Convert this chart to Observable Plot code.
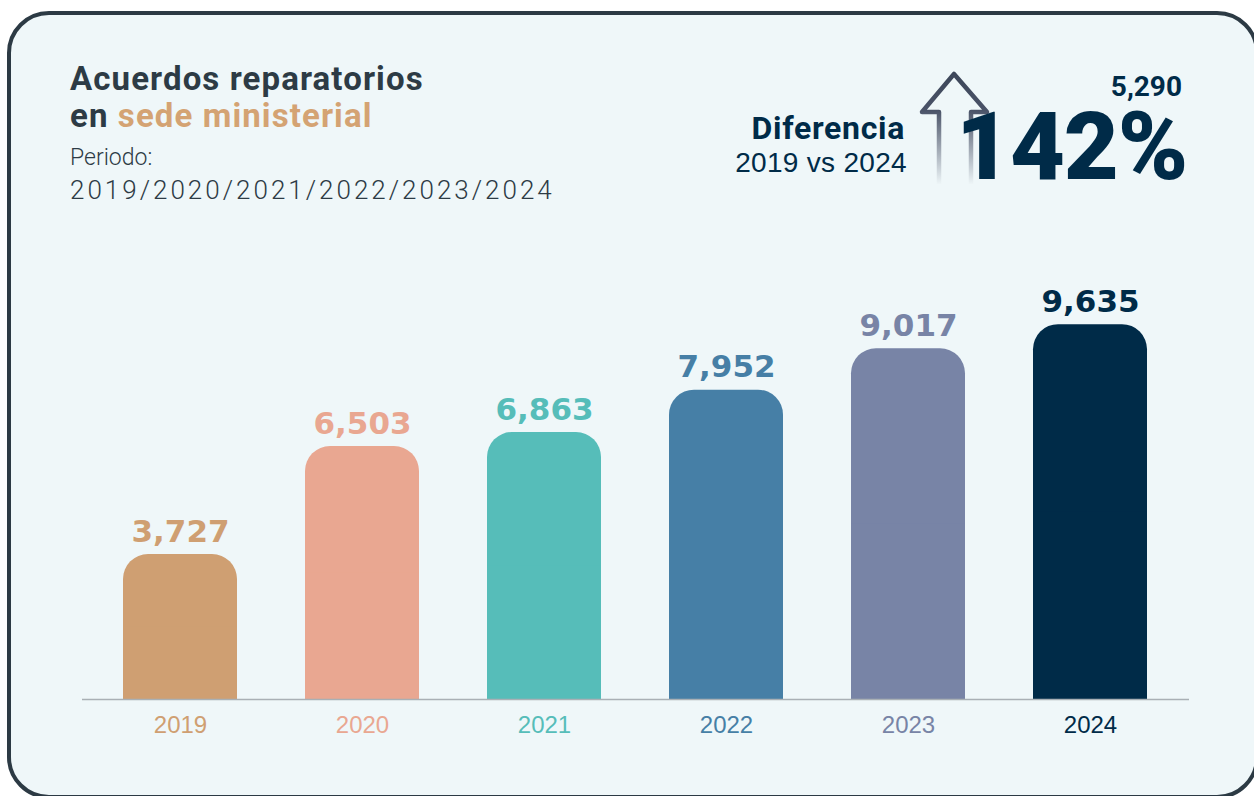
<!DOCTYPE html>
<html>
<head>
<meta charset="utf-8">
<script src="https://cdn.jsdelivr.net/npm/d3@7"></script>
<script src="https://cdn.jsdelivr.net/npm/@observablehq/plot@0.6"></script>
<style>
  html, body { margin: 0; padding: 0; background: #ffffff; width: 1254px; height: 796px; overflow: hidden; }
  #page { position: relative; width: 1254px; height: 796px; overflow: hidden; }
  #card { position: absolute; left: 7px; top: 11px; width: 1252px; height: 788px; box-sizing: border-box;
          border: 4.5px solid #2c3a44; border-radius: 42px; background: #eff7f9; }
  .t { position: absolute; white-space: nowrap; }
  #title { left: 70px; top: 60px; font-family: Roboto, sans-serif; font-weight: 700; font-size: 33px; line-height: 37px; color: #2d3b45; letter-spacing: 1.1px; }
  #title .hl { color: #d4a373; }
  #periodo { left: 70px; top: 144px; font-family: Roboto, sans-serif; font-weight: 300; font-size: 23px; color: #2d3b45; }
  #years { left: 70px; top: 175px; font-family: Roboto, sans-serif; font-weight: 300; font-size: 26px; letter-spacing: 3.0px; color: #2d3b45; }
  #dif { right: 349px; top: 112px; font-family: Roboto, sans-serif; font-weight: 700; font-size: 32px; line-height: 32px; color: #002b48; letter-spacing: 0.7px; }
  #vs { right: 347px; top: 149px; font-family: "Liberation Sans", Arial, sans-serif; font-size: 28px; line-height: 28px; color: #002b48; letter-spacing: 0.3px; }
  #diffval { right: 72px; top: 73px; font-family: Roboto, sans-serif; font-weight: 700; font-size: 28px; line-height: 28px; color: #002b48; }
  #pct { right: 67px; top: 112px; font-family: Roboto, sans-serif; font-weight: 900; font-size: 95px; line-height: 70px; color: #002b48; letter-spacing: -1.2px; }
  #arrow { position: absolute; left: 0; top: 0; }
  #chart { position: absolute; left: 0; top: 0; }
</style>
</head>
<body>
<div id="page">
  <div id="card"></div>
  <div class="t" id="title">Acuerdos reparatorios<br>en <span class="hl">sede ministerial</span></div>
  <div class="t" id="periodo">Periodo:</div>
  <div class="t" id="years"></div>
  <div class="t" id="dif">Diferencia</div>
  <div class="t" id="vs"></div>
  <svg id="arrow" width="1254" height="200">
    <defs>
      <linearGradient id="fade" x1="0" y1="70" x2="0" y2="185" gradientUnits="userSpaceOnUse">
        <stop offset="0" stop-color="#3b4558"/>
        <stop offset="0.35" stop-color="#4a5368"/>
        <stop offset="1" stop-color="#4a5368" stop-opacity="0"/>
      </linearGradient>
    </defs>
    <path d="M939,184 V112 H922 L954,74 L987,112 H971 V184" fill="none" stroke="url(#fade)" stroke-width="4.5" stroke-linejoin="round" stroke-linecap="butt"/>
  </svg>
  <div class="t" id="diffval"></div>
  <div class="t" id="pct"></div>
  <div id="chart"></div>
</div>
<script>
// ---- Data ----
const years = ["2019", "2020", "2021", "2022", "2023", "2024"];
const values = [3727, 6503, 6863, 7952, 9017, 9635];
const colors = ["#cf9f72", "#e9a791", "#56bdb9", "#467fa6", "#7884a6", "#002b48"];
const periodLabel = years.join("/");
const compareLabel = "2019 vs 2024";
const diffValue = 5290;
const diffPercent = 142;

document.getElementById("years").textContent = periodLabel;
document.getElementById("vs").textContent = compareLabel;
document.getElementById("diffval").textContent = d3.format(",")(diffValue);
document.getElementById("pct").textContent = diffPercent + "%";

const data = years.map((y, i) => ({ year: y, value: values[i], color: colors[i] }));
const fmt = d3.format(",");

const chart = Plot.plot({
  width: 1254,
  height: 796,
  marginLeft: 82,
  marginRight: 65,
  marginTop: 310,
  marginBottom: 97,
  style: { background: "transparent", overflow: "visible" },
  x: { type: "band", domain: years, paddingInner: 0.3736, paddingOuter: 0.228, axis: null },
  y: { domain: [0, 10000], axis: null },
  color: { type: "identity" },
  marks: [
    Plot.barY(data, { x: "year", y: "value", fill: "color", rx: 25, ry: 25 }),
    Plot.barY(data, { x: "year", y1: 0, y2: d => d.value / 2, fill: "color" }),
    Plot.ruleY([0], { stroke: "#a9b0b5", strokeWidth: 1.6 }),
    Plot.text(data, {
      x: "year", y: "value", text: d => fmt(d.value), fill: "color",
      lineAnchor: "bottom", dy: -13,
      fontSize: 31, fontWeight: 700, fontFamily: "DejaVu Sans, sans-serif"
    }),
    Plot.text(data, {
      x: "year", y: 0, text: "year", fill: "color",
      lineAnchor: "middle", dy: 26,
      fontSize: 24, fontFamily: "Liberation Sans, Arial, sans-serif"
    })
  ]
});
document.getElementById("chart").appendChild(chart);
</script>
</body>
</html>
